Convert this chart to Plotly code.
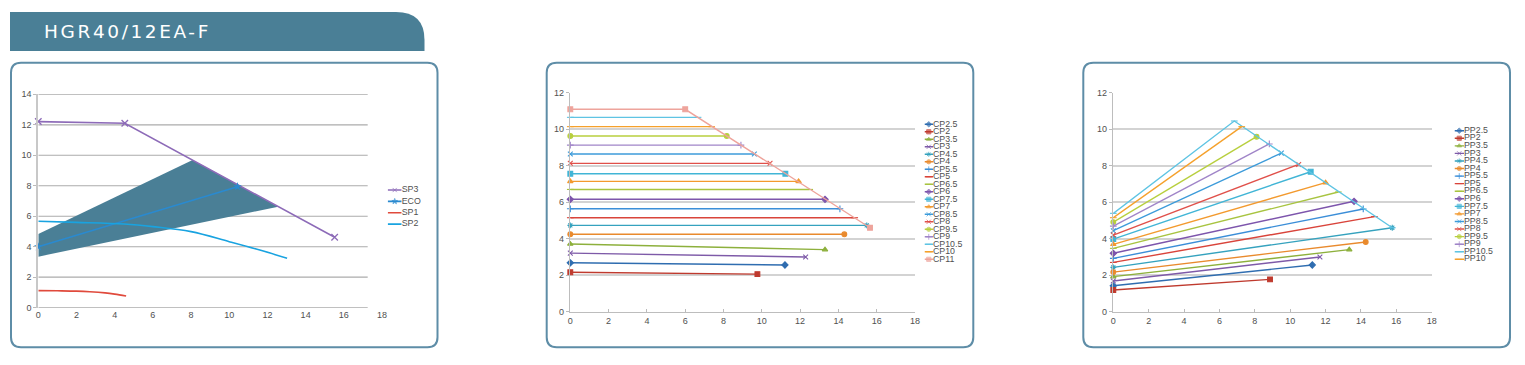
import plotly.graph_objects as go

W, H = 1525, 365

# ---------------- data ----------------
title_text = "HGR40/12EA-F"

sp_names = ["SP3", "ECO", "SP1", "SP2"]
sp3_x = [0, 4.53, 15.52]
sp3_y = [12.21, 12.10, 4.62]
eco_x = [0, 10.43]
eco_y = [4.0, 7.94]
sp1_x = [0, 1, 2, 2.7, 3.5, 4.0, 4.6]
sp1_y = [1.12, 1.11, 1.09, 1.05, 0.97, 0.89, 0.77]
sp2_x = [0, 2, 4.5, 6, 8, 10, 11.6, 13.03]
sp2_y = [5.67, 5.60, 5.49, 5.32, 4.99, 4.33, 3.78, 3.24]
area_x = [0, 8.08, 12.56, 0]
area_y = [4.83, 9.69, 6.63, 3.35]

cp_names = ["CP2.5", "CP2", "CP3.5", "CP3", "CP4.5", "CP4", "CP5.5", "CP5", "CP6.5", "CP6",
            "CP7.5", "CP7", "CP8.5", "CP8", "CP9.5", "CP9", "CP10.5", "CP10", "CP11"]
cp_x = [[0, 11.21], [0, 9.77], [0, 13.30], [0, 12.29], [0, 15.48], [0, 14.31], [0, 14.08],
        [0, 14.85], [0, 12.50], [0, 13.30], [0, 11.23], [0, 11.92], [0, 9.61], [0, 10.43],
        [0, 8.17], [0, 8.91], [0, 6.67], [0, 7.38], [0, 6.0, 15.65]]
cp_y = [[2.68, 2.56], [2.16, 2.06], [3.71, 3.40], [3.21, 3.00], [4.73, 4.73], [4.24, 4.24],
        [5.64, 5.64], [5.15, 5.15], [6.70, 6.70], [6.16, 6.16], [7.56, 7.56], [7.14, 7.14],
        [8.64, 8.64], [8.13, 8.13], [9.63, 9.63], [9.13, 9.13], [10.65, 10.65], [10.14, 10.14],
        [11.09, 11.09, 4.60]]

pp_names = ["PP2.5", "PP2", "PP3.5", "PP3", "PP4.5", "PP4", "PP5.5", "PP5", "PP6.5", "PP6",
            "PP7.5", "PP7", "PP8.5", "PP8", "PP9.5", "PP9", "PP10.5", "PP10"]
pp_x = [[0, 11.25], [0, 8.86], [0, 13.34], [0, 11.68], [0, 15.77], [0, 14.27], [0, 14.13],
        [0, 14.76], [0, 12.72], [0, 13.61], [0, 11.16], [0, 12.00], [0, 9.50], [0, 10.48],
        [0, 8.10], [0, 8.82], [0, 6.84, 15.77], [0, 7.26]]
pp_y = [[1.42, 2.56], [1.19, 1.77], [1.92, 3.40], [1.68, 3.00], [2.43, 4.60], [2.17, 3.82],
        [2.92, 5.63], [2.70, 5.21], [3.47, 6.56], [3.20, 6.05], [3.98, 7.67], [3.69, 7.07],
        [4.44, 8.69], [4.20, 8.07], [4.91, 9.59], [4.69, 9.19], [5.39, 10.45, 4.60], [5.15, 10.14]]

x_ticks = [0, 2, 4, 6, 8, 10, 12, 14, 16, 18]
y_ticks_sp = [0, 2, 4, 6, 8, 10, 12, 14]
y_ticks_cp = [0, 2, 4, 6, 8, 10, 12]

# ---------------- styles ----------------
series_colors = ["#2F6DB0", "#BF3A2E", "#8DB03C", "#7E5AA8", "#35A2BE", "#E98A2D", "#3B8ED8",
                 "#D9443B", "#A8C440", "#7D55AC", "#41B5D6", "#F39A2E", "#3C9BDA", "#E0504A",
                 "#B8CF3E", "#A085C8", "#5FC4E3", "#F5A12C", "#EEA49C"]
series_symbols = ["diamond", "square", "triangle-up", "x-thin-open", "asterisk-open", "circle",
                  "cross-thin-open", "line-ew-open", "line-ew-open", "diamond", "square",
                  "triangle-up", "x-thin-open", "x-thin-open", "circle", "cross-thin-open",
                  "line-ew-open", "line-ew-open", "square"]
sp_colors = {"SP3": "#8D6BB8", "ECO": "#2A8AD0", "SP1": "#E04A3C", "SP2": "#19A3E0"}
sp_symbols = {"SP3": "x-thin-open", "ECO": "star", "SP1": None, "SP2": None}
AREA = "#4A7F96"
BORDER = "#5E8DA7"
TICKFONT = dict(family="Liberation Sans, Arial", size=9, color="#505050")
MS = 4.8


def px(x):
    return x / W


def py(y):
    return 1 - y / H


fig = go.Figure()

# ---------------- panel 1 ----------------
fig.add_trace(go.Scatter(x=area_x, y=area_y, fill="toself", fillcolor=AREA, mode="none",
                         hoverinfo="skip", showlegend=False, xaxis="x", yaxis="y"))
fig.add_trace(go.Scatter(x=sp3_x, y=sp3_y, mode="lines+markers", xaxis="x", yaxis="y",
                         line=dict(color=sp_colors["SP3"], width=1.6), cliponaxis=False,
                         marker=dict(symbol="x-thin-open", size=6.5,
                                     line=dict(color=sp_colors["SP3"], width=1.3)),
                         showlegend=False))
fig.add_trace(go.Scatter(x=eco_x, y=eco_y, mode="lines+markers", xaxis="x", yaxis="y",
                         line=dict(color=sp_colors["ECO"], width=1.6), cliponaxis=False,
                         marker=dict(symbol="star", size=6.5, color=sp_colors["ECO"]),
                         showlegend=False))
fig.add_trace(go.Scatter(x=sp1_x, y=sp1_y, mode="lines", xaxis="x", yaxis="y",
                         line=dict(color=sp_colors["SP1"], width=1.6, shape="spline"),
                         showlegend=False))
fig.add_trace(go.Scatter(x=sp2_x, y=sp2_y, mode="lines", xaxis="x", yaxis="y",
                         line=dict(color=sp_colors["SP2"], width=1.6, shape="spline"),
                         showlegend=False))


def add_series(names, xs, ys, xa, ya):
    for i, (n, xv, yv) in enumerate(zip(names, xs, ys)):
        c = series_colors[i]
        fig.add_trace(go.Scatter(
            x=xv, y=yv, mode="lines+markers", xaxis=xa, yaxis=ya, name=n, cliponaxis=False,
            line=dict(color=c, width=1.4),
            marker=dict(symbol=series_symbols[i], size=MS, color=c, line=dict(color=c, width=1.1)),
            showlegend=False))


add_series(cp_names, cp_x, cp_y, "x2", "y2")
add_series(pp_names, pp_x, pp_y, "x3", "y3")


# ---------------- legends (drawn on hidden axes) ----------------
def add_legend(names, colors, symbols, xa, ya, widths):
    for i, n in enumerate(names):
        sym = symbols[i]
        c = colors[i]
        fig.add_trace(go.Scatter(
            x=[0, 0.5, 1], y=[i, i, i], xaxis=xa, yaxis=ya,
            mode="lines+markers+text" if sym else "lines+text",
            text=["", "", n], textposition="middle right", cliponaxis=False,
            textfont=dict(family="Liberation Sans, Arial", size=8.8, color="#505050"),
            line=dict(color=c, width=widths),
            marker=dict(symbol=sym or "circle", size=[0, 4.2, 0], color=c,
                        line=dict(color=c, width=1.0)),
            showlegend=False, hoverinfo="skip"))


add_legend(sp_names, [sp_colors[n] for n in sp_names], [sp_symbols[n] for n in sp_names],
           "x4", "y4", 1.6)
add_legend(cp_names, series_colors, series_symbols, "x5", "y5", 1.4)
add_legend(pp_names, series_colors, series_symbols, "x6", "y6", 1.4)

# ---------------- axes ----------------
ax_common = dict(tickfont=TICKFONT, fixedrange=True, zeroline=False, ticklen=3,
                 tickcolor="#BBBBBB", automargin=False)

layout = dict(
    template="none",
    width=W, height=H, autosize=False,
    margin=dict(l=0, r=0, t=0, b=0, pad=0),
    paper_bgcolor="white", plot_bgcolor="rgba(0,0,0,0)",
    showlegend=False,
)

# panel 1 (gridlines as shapes, they stop short of 18)
layout["xaxis"] = dict(domain=[px(38.3), px(382)], range=[0, 18], tickvals=x_ticks,
                       showgrid=False, showline=False, ticks="", anchor="y", **ax_common)
layout["yaxis"] = dict(domain=[py(307.7), py(94.3)], range=[0, 14], tickvals=y_ticks_sp,
                       showgrid=False, showline=True, linecolor="#C8C8C8", linewidth=2,
                       ticks="outside", anchor="x", **ax_common)
# panel 2
layout["xaxis2"] = dict(domain=[px(570.3), px(915)], range=[0, 18], tickvals=x_ticks,
                        showgrid=False, showline=True, linecolor="#BDBDBD", linewidth=1.5,
                        ticks="inside", anchor="y2", **ax_common)
layout["yaxis2"] = dict(domain=[py(311.7), py(92.7)], range=[0, 12], tickvals=y_ticks_cp,
                        showgrid=True, gridcolor="#D3D3D3", gridwidth=2,
                        showline=True, linecolor="#BDBDBD", linewidth=1.5,
                        ticks="outside", anchor="x2", **ax_common)
# panel 3
layout["xaxis3"] = dict(domain=[px(1113.3), px(1431.7)], range=[0, 18], tickvals=x_ticks,
                        showgrid=False, showline=True, linecolor="#BDBDBD", linewidth=1.5,
                        ticks="inside", anchor="y3", **ax_common)
layout["yaxis3"] = dict(domain=[py(311.7), py(92.7)], range=[0, 12], tickvals=y_ticks_cp,
                        showgrid=True, gridcolor="#D3D3D3", gridwidth=2,
                        showline=True, linecolor="#BDBDBD", linewidth=1.5,
                        ticks="outside", anchor="x3", **ax_common)


def legend_axes(k, n, x0, x1, ytop, sp):
    layout[f"xaxis{k}"] = dict(domain=[px(x0), px(x1)], range=[0, 1], visible=False,
                               fixedrange=True, anchor=f"y{k}")
    layout[f"yaxis{k}"] = dict(domain=[py(ytop + n * sp), py(ytop)],
                               range=[n - 0.5, -0.5], visible=False, fixedrange=True,
                               anchor=f"x{k}")


legend_axes(4, len(sp_names), 387.7, 401.7, 190 - 5.65, 11.35)
legend_axes(5, len(cp_names), 924.5, 933, 124.3 - 3.75, 7.5)
legend_axes(6, len(pp_names), 1454.5, 1464, 130.7 - 3.78, 7.565)

# ---------------- shapes ----------------
shapes = []
# panel 1 gridlines
for v in y_ticks_sp:
    shapes.append(dict(type="line", xref="x", yref="y", x0=0, x1=17.25, y0=v, y1=v,
                       line=dict(color="#ABABAB", width=1.2), layer="below"))


def rrect(x0, y0, x1, y1, r):
    rx, ry = r / W, r / H
    X0, X1 = px(x0), px(x1)
    Y0, Y1 = py(y0), py(y1)  # Y0 top, Y1 bottom
    return (f"M {X0 + rx},{Y0} L {X1 - rx},{Y0} Q {X1},{Y0} {X1},{Y0 - ry} "
            f"L {X1},{Y1 + ry} Q {X1},{Y1} {X1 - rx},{Y1} L {X0 + rx},{Y1} "
            f"Q {X0},{Y1} {X0},{Y1 + ry} L {X0},{Y0 - ry} Q {X0},{Y0} {X0 + rx},{Y0} Z")


for (a, b) in [(11, 437.5), (546.7, 973.3), (1083.3, 1510)]:
    shapes.append(dict(type="path", xref="paper", yref="paper",
                       path=rrect(a, 62.7, b, 347.3, 10),
                       line=dict(color=BORDER, width=2), layer="below"))

# title banner
banner = (f"M {px(10)},{py(12)} L {px(396)},{py(12)} Q {px(424.5)},{py(12)} {px(424.5)},{py(40)} "
          f"L {px(424.5)},{py(51)} L {px(10)},{py(51)} Z")
shapes.append(dict(type="path", xref="paper", yref="paper", path=banner,
                   fillcolor=AREA, line=dict(width=0), layer="below"))
layout["shapes"] = shapes

layout["annotations"] = [dict(text=title_text, xref="paper", yref="paper",
                              x=px(41.5), y=py(31.5), xanchor="left", yanchor="middle",
                              align="left", showarrow=False,
                              font=dict(family="DejaVu Sans", size=18.5, color="white"))]

fig.update_layout(**layout)
post = ("document.body.style.margin='0';document.body.style.overflow='hidden';"
        "document.querySelectorAll('.annotation-text').forEach(function(t){"
        "t.style.letterSpacing='2.6px';});")
fig.write_html("out.html", config={"displayModeBar": False, "staticPlot": True},
               post_script=post)
